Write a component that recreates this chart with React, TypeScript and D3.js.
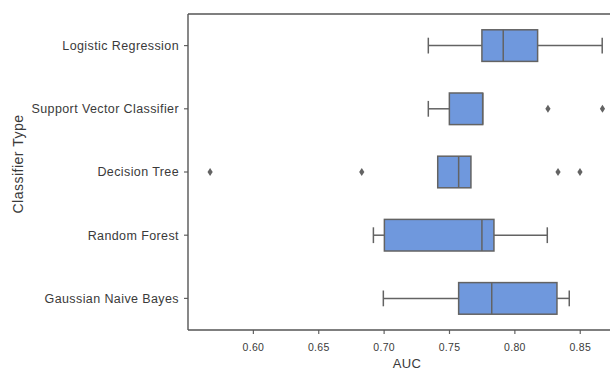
import React from "react";
import * as d3 from "d3";

const WIDTH = 610;
const HEIGHT = 370;
const MARGIN = { top: 14, bottom: 40, left: 188 };
const AXIS_RIGHT = 626; // the axes run past the cropped picture

const CLASSIFIERS = [
  "Logistic Regression",
  "Support Vector Classifier",
  "Decision Tree",
  "Random Forest",
  "Gaussian Naive Bayes",
];

// box stats
const WHISKER_LOW = [0.7338, 0.7338, 0.741, 0.6918, 0.6994];
const Q1 = [0.7748, 0.7499, 0.741, 0.7002, 0.757];
const MEDIAN = [0.7911, 0.7754, 0.757, 0.7748, 0.7823];
const Q3 = [0.8174, 0.7754, 0.7664, 0.784, 0.8322];
const WHISKER_HIGH = [0.8668, 0.7754, 0.7664, 0.8248, 0.8416];
const OUTLIERS = [[], [0.8253, 0.867], [0.5669, 0.6829, 0.833, 0.8498], [], []];

const X_TICKS = [0.6, 0.65, 0.7, 0.75, 0.8, 0.85];

const FILL = "#6f98dd";
const LINE = "#636363";
const TEXT = "#3a3a3a";
const FONT = "'Liberation Sans', Arial, sans-serif";

export default function App() {
  const innerBottom = HEIGHT - MARGIN.bottom;
  const x = d3.scaleLinear().domain([0.55, 0.885]).range([MARGIN.left, AXIS_RIGHT]);
  const y = d3
    .scaleBand<string>()
    .domain(CLASSIFIERS)
    .range([MARGIN.top, innerBottom])
    .paddingInner(0)
    .paddingOuter(0);
  const boxH = y.bandwidth() * 0.5;

  return (
    <svg
      width={WIDTH}
      height={HEIGHT}
      style={{ position: "absolute", left: 0, top: 0, background: "#fff", fontFamily: FONT }}
    >
      {CLASSIFIERS.map((name, i) => {
        const cy = (y(name) ?? 0) + y.bandwidth() / 2;
        const capH = boxH * 0.5;
        return (
          <g key={name}>
            <line x1={x(WHISKER_LOW[i])} x2={x(Q1[i])} y1={cy} y2={cy} stroke={LINE} strokeWidth={1.5} />
            <line x1={x(Q3[i])} x2={x(WHISKER_HIGH[i])} y1={cy} y2={cy} stroke={LINE} strokeWidth={1.5} />
            {WHISKER_LOW[i] < Q1[i] && (
              <line x1={x(WHISKER_LOW[i])} x2={x(WHISKER_LOW[i])} y1={cy - capH / 2} y2={cy + capH / 2} stroke={LINE} strokeWidth={1.5} />
            )}
            {WHISKER_HIGH[i] > Q3[i] && (
              <line x1={x(WHISKER_HIGH[i])} x2={x(WHISKER_HIGH[i])} y1={cy - capH / 2} y2={cy + capH / 2} stroke={LINE} strokeWidth={1.5} />
            )}
            <rect
              x={x(Q1[i])}
              y={cy - boxH / 2}
              width={x(Q3[i]) - x(Q1[i])}
              height={boxH}
              fill={FILL}
              stroke={LINE}
              strokeWidth={1.5}
            />
            <line x1={x(MEDIAN[i])} x2={x(MEDIAN[i])} y1={cy - boxH / 2} y2={cy + boxH / 2} stroke={LINE} strokeWidth={1.5} />
            {OUTLIERS[i].map((v, j) => (
              <path
                key={j}
                d={`M${x(v)},${cy - 4}L${x(v) + 2.6},${cy}L${x(v)},${cy + 4}L${x(v) - 2.6},${cy}Z`}
                fill={LINE}
              />
            ))}
            <line x1={MARGIN.left - 4} x2={MARGIN.left} y1={cy} y2={cy} stroke={LINE} strokeWidth={1.2} />
            <text
              x={MARGIN.left - 9}
              y={cy}
              dy="0.35em"
              textAnchor="end"
              fontSize={12.5}
              letterSpacing={0.4}
              fill={TEXT}
            >
              {name}
            </text>
          </g>
        );
      })}

      {X_TICKS.map((t) => (
        <g key={t}>
          <line x1={x(t)} x2={x(t)} y1={innerBottom} y2={innerBottom + 4} stroke={LINE} strokeWidth={1.2} />
          <text x={x(t)} y={innerBottom + 21} textAnchor="middle" fontSize={10.5} letterSpacing={0.3} fill={TEXT}>
            {d3.format(".2f")(t)}
          </text>
        </g>
      ))}

      {/* spines: left, bottom, top (the right one is cut off) */}
      <line x1={MARGIN.left} x2={MARGIN.left} y1={MARGIN.top} y2={innerBottom} stroke="#555" strokeWidth={1.4} />
      <line x1={MARGIN.left} x2={AXIS_RIGHT} y1={innerBottom} y2={innerBottom} stroke="#555" strokeWidth={1.4} />
      <line x1={MARGIN.left} x2={AXIS_RIGHT} y1={MARGIN.top} y2={MARGIN.top} stroke="#555" strokeWidth={1.4} />

      <text x={(MARGIN.left + AXIS_RIGHT) / 2} y={368} textAnchor="middle" fontSize={13} letterSpacing={0.4} fill={TEXT}>
        AUC
      </text>
      <text
        transform={`translate(23,164) rotate(-90)`}
        textAnchor="middle"
        fontSize={14}
        letterSpacing={0.5}
        fill={TEXT}
      >
        Classifier Type
      </text>
    </svg>
  );
}
